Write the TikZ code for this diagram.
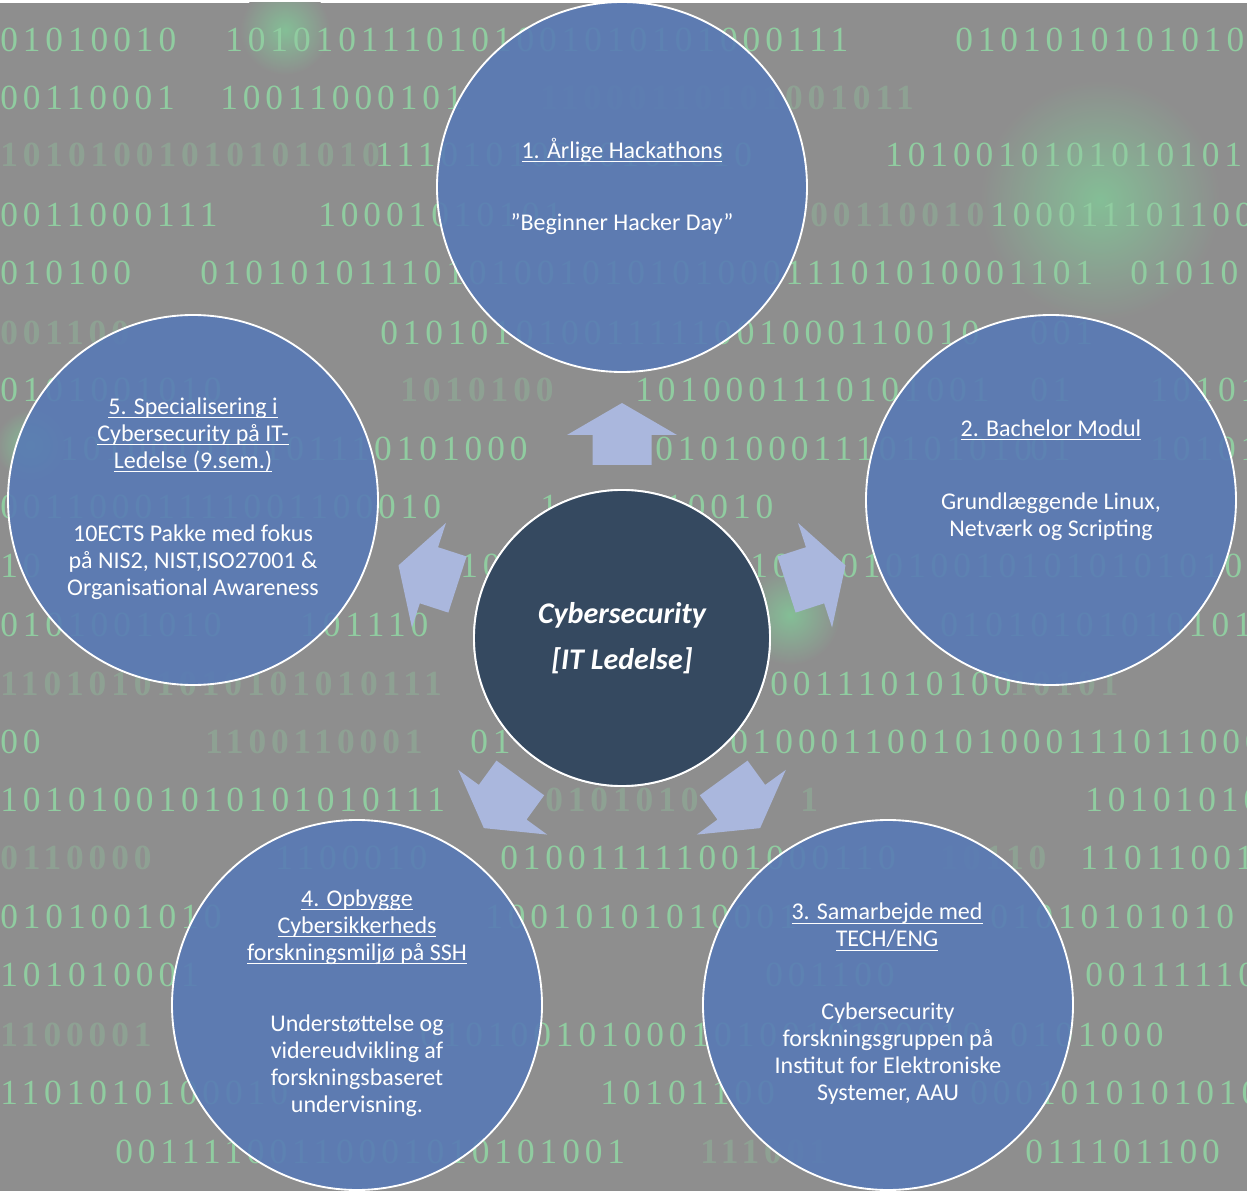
\documentclass[tikz,border=0pt]{standalone}
\usepackage{fontspec}
\setmainfont{Carlito}
\newfontfamily\binfont[LetterSpace=14]{Liberation Serif}
\newcommand{\myul}[1]{\setbox0\hbox{#1}\leavevmode\rlap{\vrule height -2.0pt depth 2.9pt width \wd0}\box0}
\definecolor{bgc}{RGB}{142,142,142}
\definecolor{digc}{RGB}{144,204,160}
\definecolor{glowc}{RGB}{132,190,150}
\definecolor{circblue}{RGB}{88,122,181}
\definecolor{centc}{RGB}{53,73,96}
\definecolor{arrowc}{RGB}{170,183,221}
\begin{document}
\begin{tikzpicture}[x=0.75pt,y=-0.75pt,
  bin/.style={anchor=west, text=digc, inner sep=0, font=\binfont\fontsize{26.5}{26.5}\selectfont},
  binb/.style={bin, font=\binfont\bfseries\fontsize{26.5}{26.5}\selectfont, text opacity=0.32},
  outer/.style={circle, draw=white, line width=1.4pt, fill=circblue, fill opacity=0.9, text opacity=1, minimum size=277.5pt, inner sep=0},
  centre/.style={circle, draw=white, line width=1.4pt, fill=centc, minimum size=222pt, inner sep=0},
  ttl/.style={text=white, align=center, inner sep=0, font=\fontsize{18}{20.25}\selectfont},
  bodytxt/.style={text=white, align=center, inner sep=0, font=\fontsize{18}{20.25}\selectfont},
  blockarrow/.style={fill=arrowc}]
\useasboundingbox (0,0) rectangle (1247,1191);
\fill[bgc] (0,0) rectangle (1247,1191);
\fill[white] (0,0) rectangle (1247,3);
\begin{scope}
\clip (0,3) rectangle (1247,1191);
% glows
\shade[inner color=glowc, outer color=bgc] (1100,200) circle (120);
\shade[inner color=glowc, outer color=bgc] (285,30) circle (45);
\shade[inner color=glowc, outer color=bgc] (30,445) circle (35);
\shade[inner color=glowc, outer color=bgc] (790,615) circle (50);
% crisp binary rows
\foreach \x/\y/\s [count=\i] in {
 0/40/01010010, 225/40/1010101110101001010101000111, 955/40/0101010101010,
 0/98/00110001, 220/98/10011000101,
 375/155/11101010010101010, 885/155/10100101010101010,
 0/215/0011000111, 318/215/10001010101, 990/215/100011101100,
 0/273/010100, 200/273/0101010111010100101010100011101010001, 1030/273/101, 1130/273/01010,
 380/333/010101010011111001000110010, 1030/333/001,
 0/390/0101001010, 635/390/1010001110101001, 1030/390/01, 1150/390/10101,
 60/449/101001010101110101000, 655/449/01010001110101010, 1030/449/01, 1150/449/10101,
 0/507/00110001111001100010, 540/507/1, 665/507/10010,
 0/566/10, 460/566/10, 750/566/10, 840/566/0101001010101010101,
 0/625/0101001010, 300/625/101110, 940/625/01010101010101,
 770/684/00111010100,
 0/742/00, 470/742/01, 730/742/010001100101000111011000,
 0/800/10101001010101010111, 1085/800/10101010,
 275/858/1100010, 500/858/010011111001000110, 1080/858/11011001,
 0/917/0101001010, 485/917/10010101010001, 990/917/01010101010,
 0/975/101010001, 765/975/001100, 1085/975/00111110,
 420/1035/0101001010001010010100010, 1010/1035/0101000,
 0/1093/1101010100010, 600/1093/10101100, 970/1093/0001010101010,
 115/1152/00111100110001010101001, 1025/1152/011101100}
 {\node[bin] (d\i) at (\x,\y) {\s};}
% blurred binary rows
\foreach \x/\y/\s [count=\i] in {
 0/155/10101001010101010, 540/98/11000110101001011, 810/215/00110010,
 0/333/001100, 400/390/1010100, 0/684/11010101010101010111, 1010/684/10101,
 205/742/1100110001, 545/800/0101010, 800/800/1, 0/858/0110000,
 0/1035/1100001, 700/1152/111001, 940/858/10110}
 {\node[binb] (e\i) at (\x,\y) {\s};}
\end{scope}
% centre
\node[centre] (c) at (622,638) {};
% block arrows
\foreach \a in {0,-72,-144,144,72}{
  \begin{scope}[shift={(c.center)}, rotate=\a]
    \fill[blockarrow] (-29.5,-173) -- (-29.5,-203) -- (-55,-203) -- (0,-235) -- (55,-203) -- (29.5,-203) -- (29.5,-173) -- cycle;
  \end{scope}}
% outer circles
\node[outer] (n1) at (622,187) {};
\node[outer] (n2) at (1051,500) {};
\node[outer] (n3) at (888,1005) {};
\node[outer] (n4) at (357,1005) {};
\node[outer] (n5) at (193,500) {};
% centre redrawn on top of arrows
\node[centre] (c2) at (c.center) {};
\node[text=white, align=center, inner sep=0, font=\fontsize{22.5}{35}\selectfont\bfseries\itshape] (ct) at (622,638) {Cybersecurity\\{}[IT Ledelse]};
% texts
\node[ttl] (t1) at (622,150) {\myul{1. Årlige Hackathons}};
\node[bodytxt] (b1) at (622,224) {”Beginner Hacker Day”};
\node[ttl] (t2) at (1051,430) {\myul{2. Bachelor Modul}};
\node[bodytxt] (b2) at (1051,517) {Grundlæggende Linux,\\Netværk og Scripting};
\node[ttl] (t3) at (887,927) {\myul{3. Samarbejde med}\\\myul{TECH/ENG}};
\node[bodytxt] (b3) at (888,1054) {Cybersecurity\\forskningsgruppen på\\Institut for Elektroniske\\Systemer, AAU};
\node[ttl] (t4) at (357,927) {\myul{4. Opbygge}\\\myul{Cybersikkerheds}\\\myul{forskningsmiljø på SSH}};
\node[bodytxt] (b4) at (357,1066) {Understøttelse og\\videreudvikling af\\forskningsbaseret\\undervisning.};
\node[ttl] (t5) at (193,435) {\myul{5. Specialisering i}\\\myul{Cybersecurity på IT-}\\\myul{Ledelse (9.sem.)}};
\node[bodytxt] (b5) at (193,562) {10ECTS Pakke med fokus\\på NIS2, NIST,ISO27001 \&\\Organisational Awareness};
\end{tikzpicture}
\end{document}
